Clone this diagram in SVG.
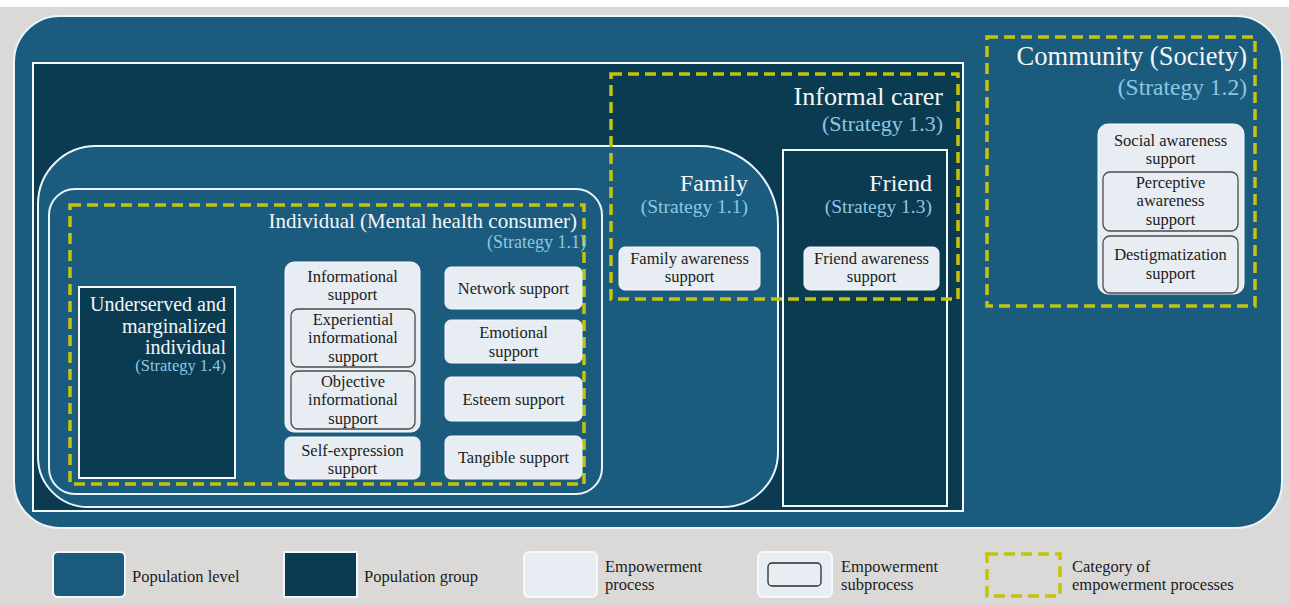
<svg xmlns="http://www.w3.org/2000/svg" width="1289" height="605" viewBox="0 0 1289 605">
  <style>
    .level { fill: #1b5c7e; stroke: #eaf6fb; stroke-width: 2; }
    .group { fill: #0b3b51; stroke: #f2f8fb; stroke-width: 2; }
    .cat { fill: none; stroke: #c3c30e; stroke-width: 3.5; stroke-dasharray: 11 6; }
    .proc { fill: #e7edf2; stroke: #f6f9fb; stroke-width: 1; }
    .sub { fill: #e7edf2; stroke: #4a4a4a; stroke-width: 1.3; }
    text { font-family: "Liberation Serif", serif; }
    .t { fill: #1c1c1c; font-size: 16.5px; text-anchor: middle; }
    .h { fill: #f3f6f8; text-anchor: end; }
    .s { fill: #8cc7e4; text-anchor: end; }
    .lg { fill: #1c1c1c; font-size: 16.5px; }
  </style>

  <!-- page background -->
  <rect x="0" y="0" width="1289" height="605" fill="#dbd9d7"/>
  <rect x="0" y="0" width="1289" height="7" fill="#ffffff"/>

  <!-- society-wide population level -->
  <g id="population-level">
    <rect class="level" x="14" y="16" width="1268" height="512" rx="46"/>
  </g>

  <!-- population group frame -->
  <g id="population-group">
    <rect class="group" x="33" y="63" width="930" height="448"/>
  </g>

  <!-- family level -->
  <g id="family">
    <path class="level" d="M 96 146 H 700 A 78 78 0 0 1 778 224 V 452 A 55 55 0 0 1 723 507 H 88 A 50 50 0 0 1 38 457 V 204 A 58 58 0 0 1 96 146 Z"/>
    <text class="h" x="748" y="191" font-size="24">Family</text>
    <text class="s" x="748" y="213" font-size="19.5">(Strategy 1.1)</text>
    <rect class="proc" x="619" y="247" width="141" height="43" rx="6"/>
    <text class="t" x="689.5" y="264">Family awareness</text>
    <text class="t" x="689.5" y="282">support</text>
  </g>

  <!-- friend group -->
  <g id="friend">
    <rect class="group" x="783" y="150" width="164" height="356"/>
    <text class="h" x="932" y="191" font-size="24">Friend</text>
    <text class="s" x="932" y="213" font-size="19.5">(Strategy 1.3)</text>
    <rect class="proc" x="804" y="247" width="135" height="43" rx="6"/>
    <text class="t" x="871.5" y="264">Friend awareness</text>
    <text class="t" x="871.5" y="282">support</text>
  </g>

  <!-- individual level -->
  <g id="individual">
    <rect class="level" x="49" y="189" width="553" height="305" rx="26"/>
    <rect class="cat" x="70" y="205" width="514" height="279"/>
    <text class="h" x="577" y="228" font-size="21">Individual (Mental health consumer)</text>
    <text class="s" x="586" y="248" font-size="18">(Strategy 1.1)</text>
  </g>

  <!-- underserved and marginalized individual -->
  <g id="underserved">
    <rect class="group" x="79" y="287" width="156" height="191"/>
    <text class="h" x="226" y="311" font-size="20">Underserved and</text>
    <text class="h" x="226" y="333" font-size="20">marginalized</text>
    <text class="h" x="226" y="354" font-size="20">individual</text>
    <text class="s" x="226" y="371" font-size="16.5">(Strategy 1.4)</text>
  </g>

  <!-- individual empowerment processes -->
  <g id="informational-support">
    <rect class="proc" x="285" y="262" width="135" height="170" rx="9"/>
    <text class="t" x="352.5" y="282">Informational</text>
    <text class="t" x="352.5" y="300">support</text>
    <rect class="sub" x="291" y="309" width="124" height="58" rx="7"/>
    <text class="t" x="353" y="325">Experiential</text>
    <text class="t" x="353" y="343">informational</text>
    <text class="t" x="353" y="362">support</text>
    <rect class="sub" x="291" y="371" width="124" height="58" rx="7"/>
    <text class="t" x="353" y="387">Objective</text>
    <text class="t" x="353" y="405">informational</text>
    <text class="t" x="353" y="424">support</text>
  </g>
  <g id="self-expression-support">
    <rect class="proc" x="285" y="437" width="135" height="42" rx="6"/>
    <text class="t" x="352.5" y="456">Self-expression</text>
    <text class="t" x="352.5" y="474">support</text>
  </g>
  <g id="network-support">
    <rect class="proc" x="445" y="267" width="137" height="42" rx="6"/>
    <text class="t" x="513.5" y="294">Network support</text>
  </g>
  <g id="emotional-support">
    <rect class="proc" x="445" y="320" width="137" height="43" rx="6"/>
    <text class="t" x="513.5" y="338">Emotional</text>
    <text class="t" x="513.5" y="357">support</text>
  </g>
  <g id="esteem-support">
    <rect class="proc" x="445" y="377" width="137" height="44" rx="6"/>
    <text class="t" x="513.5" y="405">Esteem support</text>
  </g>
  <g id="tangible-support">
    <rect class="proc" x="445" y="436" width="137" height="43" rx="6"/>
    <text class="t" x="513.5" y="463">Tangible support</text>
  </g>

  <!-- informal carer category -->
  <g id="informal-carer">
    <rect class="cat" x="611" y="74" width="347" height="225"/>
    <text class="h" x="943" y="105" font-size="26">Informal carer</text>
    <text class="s" x="943" y="131" font-size="22">(Strategy 1.3)</text>
  </g>

  <!-- community (society) category -->
  <g id="community">
    <rect class="cat" x="987" y="37" width="268" height="269"/>
    <text class="h" x="1247" y="65" font-size="26.5">Community (Society)</text>
    <text class="s" x="1247" y="95" font-size="23.5">(Strategy 1.2)</text>
    <rect class="proc" x="1098" y="124" width="146" height="170" rx="10"/>
    <text class="t" x="1170.5" y="146">Social awareness</text>
    <text class="t" x="1170.5" y="164">support</text>
    <rect class="sub" x="1103" y="172" width="135" height="59" rx="7"/>
    <text class="t" x="1170.5" y="188">Perceptive</text>
    <text class="t" x="1170.5" y="206">awareness</text>
    <text class="t" x="1170.5" y="225">support</text>
    <rect class="sub" x="1103" y="236" width="135" height="57" rx="7"/>
    <text class="t" x="1170.5" y="260">Destigmatization</text>
    <text class="t" x="1170.5" y="279">support</text>
  </g>

  <!-- legend -->
  <g id="legend">
    <rect x="53" y="552" width="72" height="45" rx="5" fill="#1b5c7e" stroke="#f0f8fb" stroke-width="2"/>
    <text class="lg" x="132" y="582">Population level</text>
    <rect x="284" y="552" width="73" height="45" fill="#0b3b51" stroke="#f0f8fb" stroke-width="2"/>
    <text class="lg" x="364" y="582">Population group</text>
    <rect x="524" y="552" width="73" height="45" rx="5" fill="#e7edf2" stroke="#f6f8fa" stroke-width="2"/>
    <text class="lg" x="605" y="572">Empowerment</text>
    <text class="lg" x="605" y="590">process</text>
    <rect x="758" y="552" width="74" height="45" rx="5" fill="#e7edf2" stroke="#f6f8fa" stroke-width="2"/>
    <rect x="768" y="563" width="53" height="23" rx="4" fill="#e7edf2" stroke="#2a2a2a" stroke-width="1.3"/>
    <text class="lg" x="841" y="572">Empowerment</text>
    <text class="lg" x="841" y="590">subprocess</text>
    <rect class="cat" x="987" y="554" width="73" height="42"/>
    <text class="lg" x="1072" y="572">Category of</text>
    <text class="lg" x="1072" y="590">empowerment processes</text>
  </g>
</svg>
